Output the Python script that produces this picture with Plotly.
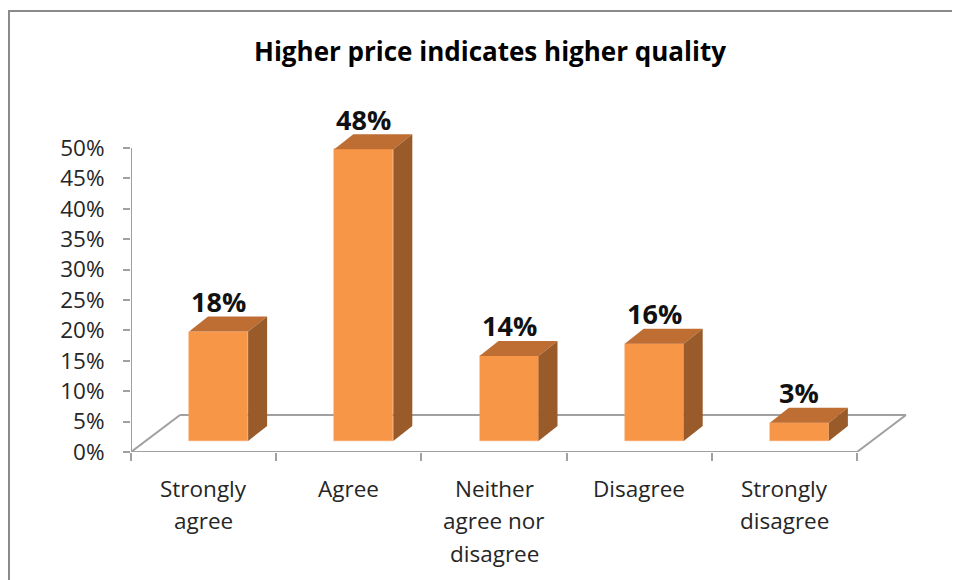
import plotly.graph_objects as go

# ---------------- data ----------------
categories = ["Strongly<br>agree", "Agree", "Neither<br>agree nor<br>disagree", "Disagree", "Strongly<br>disagree"]
values = [18, 48, 14, 16, 3]
tick_values = [0, 5, 10, 15, 20, 25, 30, 35, 40, 45, 50]
tick_labels = [f"{t}%" for t in tick_values]
title_text = "Higher price indicates higher quality"

# ---------------- geometry (pseudo-3D) ----------------
OFF = 8  # page body margin
FIG_W, FIG_H = 960 - OFF, 580 - OFF
L, T = 131 - OFF, 100 - OFF
plot_w = 908 - 131
plot_h = 452 - 100
R = FIG_W - L - plot_w
B = FIG_H - T - plot_h
px_per_cat = 145.2
px_per_pct = 6.08
x_min = -0.5
x_max = x_min + plot_w / px_per_cat
y_max = plot_h / px_per_pct

floor_dx = 49 / px_per_cat
floor_dy = 37 / px_per_pct
bar_dx0 = 15 / px_per_cat
bar_dy0 = 11 / px_per_pct
bar_w = 59 / px_per_cat
side_dx = 19 / px_per_cat
side_dy = 15 / px_per_pct

FRONT = "#F79646"
TOP = "#BE6D33"
SIDE = "#9A5B2A"
AXIS = "#A0A0A0"
FONT = "Open Sans"

n = len(categories)
fig = go.Figure()

# front faces
xs = [i + bar_dx0 for i in range(n)]
fig.add_trace(go.Bar(x=xs, y=values, base=bar_dy0, width=bar_w,
                     marker=dict(color=FRONT, line=dict(color="#F8A060", width=0.5)),
                     showlegend=False, hoverinfo="skip"))

# top and side faces
for i, v in enumerate(values):
    xl = i + bar_dx0 - bar_w / 2
    xr = xl + bar_w
    top = bar_dy0 + v
    fig.add_trace(go.Scatter(
        x=[xl, xr, xr + side_dx, xl + side_dx, xl],
        y=[top, top, top + side_dy, top + side_dy, top],
        fill="toself", fillcolor=TOP, mode="lines", line=dict(width=0, color=TOP),
        showlegend=False, hoverinfo="skip"))
    fig.add_trace(go.Scatter(
        x=[xr, xr + side_dx, xr + side_dx, xr, xr],
        y=[bar_dy0, bar_dy0 + side_dy, top + side_dy, top, bar_dy0],
        fill="toself", fillcolor=SIDE, mode="lines", line=dict(width=0, color=SIDE),
        showlegend=False, hoverinfo="skip"))
    fig.add_annotation(x=xl + bar_w / 2, y=top, yref="y", xref="x",
                       text=f"<b>{v}%</b>", showarrow=False, yanchor="middle",
                       yshift=30, font=dict(family=FONT, size=27, color="#111"))

# floor outline + vertical axis line
floor = [
    (x_min, 0, x_min + n, 0),
    (x_min, 0, x_min + floor_dx, floor_dy),
    (x_min + floor_dx, floor_dy, x_min + n + floor_dx, floor_dy),
    (x_min + n, 0, x_min + n + floor_dx, floor_dy),
    (x_min, 0, x_min, 50),
]
for x0, y0, x1, y1 in floor:
    fig.add_shape(type="line", x0=x0, y0=y0, x1=x1, y1=y1, xref="x", yref="y",
                  line=dict(color=AXIS, width=2), layer="below")

# category labels (line by line)
for i, c in enumerate(categories):
    for k, line in enumerate(c.split("<br>")):
        fig.add_annotation(x=i, y=0, xref="x", yref="y", text=line, showarrow=False,
                           yanchor="middle", yshift=-(36 + 32.5 * k),
                           font=dict(family=FONT, size=22.5, color="#262626"))

# chart border
fig.add_shape(type="rect", xref="paper", yref="paper",
              x0=(9 - OFF - L) / plot_w, x1=(1010 - L) / plot_w,
              y0=(T + plot_h - (11 - OFF)) / plot_h, y1=(T + plot_h - 640) / plot_h,
              line=dict(color="#8A8A8A", width=2))

fig.update_layout(
    width=FIG_W, height=FIG_H,
    margin=dict(l=L, r=R, t=T, b=B, autoexpand=False),
    paper_bgcolor="white", plot_bgcolor="white",
    bargap=0,
    title=dict(text=f"<b>{title_text}</b>", x=(490 - OFF) / FIG_W, xanchor="center",
               y=1 - (52 - OFF) / FIG_H, yanchor="middle", yref="container",
               font=dict(family=FONT, size=26, color="#000")),
    xaxis=dict(range=[x_min, x_max], showgrid=False, zeroline=False, showline=False,
               tickvals=[x_min + k for k in range(n + 1)], ticks="outside", ticklen=8,
               tickwidth=2, tickcolor=AXIS, showticklabels=False, fixedrange=True),
    yaxis=dict(range=[0, y_max], showgrid=False, zeroline=False, showline=False,
               tickvals=tick_values, ticktext=tick_labels, ticks="outside", ticklen=7,
               tickwidth=2, tickcolor=AXIS, ticklabelstandoff=14,
               tickfont=dict(family=FONT, size=22.5, color="#262626"), fixedrange=True),
)

fig.write_html("out.html")
